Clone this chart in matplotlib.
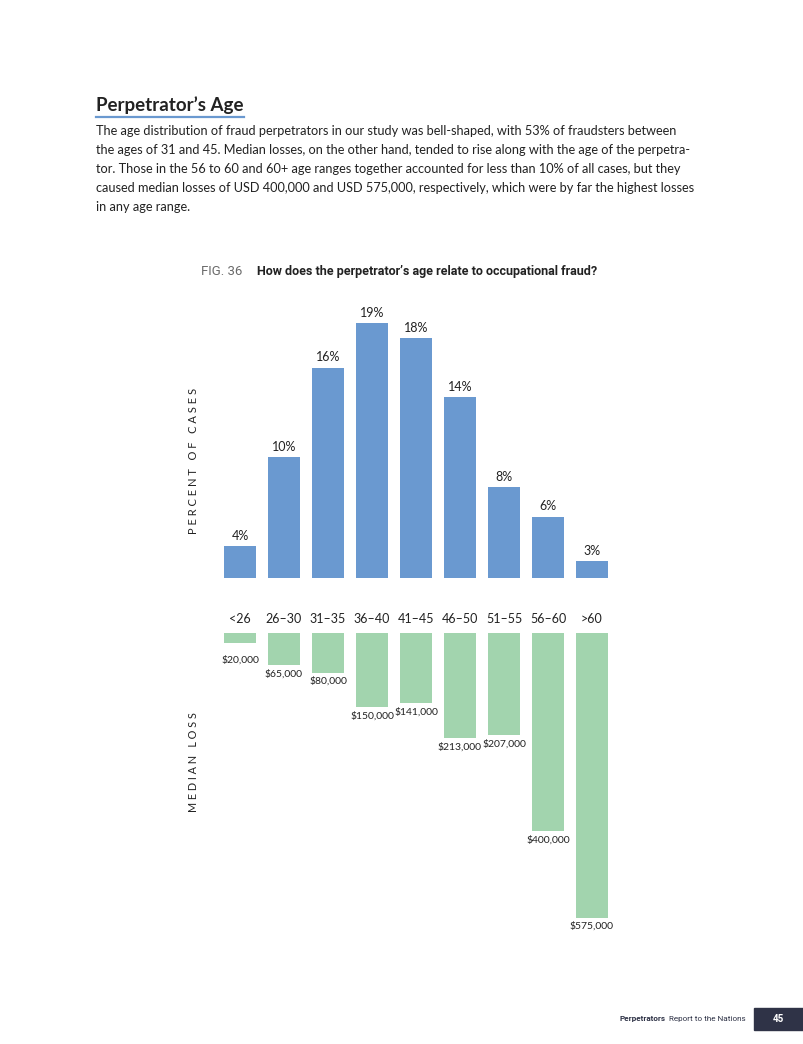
import matplotlib.pyplot as plt
from matplotlib.lines import Line2D
from matplotlib.patches import Rectangle
from matplotlib.transforms import blended_transform_factory

# Daten
AGES = ['<26', '26–30', '31–35', '36–40', '41–45', '46–50', '51–55', '56–60', '>60']
PERCENT = [4, 10, 16, 19, 18, 14, 8, 6, 3]
LOSS = [20000, 65000, 80000, 150000, 141000, 213000, 207000, 400000, 575000]

TITLE = 'Perpetrator’s Age'
BODY = [
    'The age distribution of fraud perpetrators in our study was bell-shaped, with 53% of fraudsters between',
    'the ages of 31 and 45. Median losses, on the other hand, tended to rise along with the age of the perpetra-',
    'tor. Those in the 56 to 60 and 60+ age ranges together accounted for less than 10% of all cases, but they',
    'caused median losses of USD 400,000 and USD 575,000, respectively, which were by far the highest losses',
    'in any age range.',
]
FIG_NO = 'FIG. 36'
FIG_Q = 'How does the perpetrator’s age relate to occupational fraud?'

BLUE = '#6a99d0'
GREEN = '#a2d4ae'
DARK = '#222222'
FONT = ['Lato', 'DejaVu Sans']
NARROW = ['Liberation Sans Narrow', 'Roboto', 'DejaVu Sans']

W, H = 804, 1044
fig = plt.figure(figsize=(W / 100, H / 100), dpi=100)


def fx(px):
    return px / W


def fy(py):
    return 1 - py / H


def spaced(s):
    return ' '.join(s)


# Kopfbereich
fig.text(fx(96), fy(105), TITLE, fontsize=13.5, fontweight='bold', color=DARK,
         family=FONT, va='center', ha='left')
fig.add_artist(Line2D([fx(96), fx(244)], [fy(117), fy(117)], color=BLUE, lw=1.6))
for i, line in enumerate(BODY):
    fig.text(fx(96), fy(131 + 19 * i), line, fontsize=9.2, color=DARK,
             family=FONT, va='center', ha='left')

fig.text(fx(201), fy(271), FIG_NO, fontsize=9.5, color='#6b6b6b',
         family=NARROW, va='center', ha='left')
fig.text(fx(257), fy(271), FIG_Q, fontsize=9, color=DARK, fontweight='bold',
         family=NARROW, va='center', ha='left')

# Achsen
x_left, x_right = 200, 620
xlim = (-(240 - x_left) / 44, (x_right - 240) / 44)
ax_top = fig.add_axes([fx(x_left), fy(578), fx(x_right - x_left), (578 - 290) / H])
ax_bot = fig.add_axes([fx(x_left), fy(950), fx(x_right - x_left), (950 - 633) / H])

pos = list(range(len(AGES)))
ax_top.bar(pos, PERCENT, width=0.727, color=BLUE)
ax_top.set_xlim(*xlim)
ax_top.set_ylim(1.88, 1.88 + (578 - 290) / 14.9)
for i, v in enumerate(PERCENT):
    ax_top.annotate(f'{v}%', (i, v), xytext=(0, 3), textcoords='offset points',
                    ha='center', va='bottom', fontsize=9, color=DARK, family=FONT)

ax_bot.bar(pos, LOSS, width=0.727, color=GREEN)
ax_bot.set_xlim(*xlim)
ax_bot.set_ylim((950 - 633) / 0.000495, 0)
for i, v in enumerate(LOSS):
    ax_bot.annotate(f'${v:,}', (i, max(v, 36000)), xytext=(0, -3), textcoords='offset points',
                    ha='center', va='top', fontsize=7.5, color=DARK, family=FONT)

trans = blended_transform_factory(ax_bot.transData, ax_bot.transAxes)
for i, lab in enumerate(AGES):
    ax_bot.annotate(lab, (i, 1), xycoords=trans, xytext=(0, 10), textcoords='offset points',
                    ha='center', va='center', fontsize=9, color=DARK, family=FONT)

for ax in (ax_top, ax_bot):
    ax.axis('off')

fig.text(fx(194), fy(461), spaced('PERCENT OF CASES'), rotation=90, fontsize=8,
         color=DARK, family=FONT, ha='center', va='center')
fig.text(fx(194), fy(762), spaced('MEDIAN LOSS'), rotation=90, fontsize=7.8,
         color=DARK, family=FONT, ha='center', va='center')

# Fußzeile
fig.text(fx(620), fy(1019), 'Perpetrators', fontsize=5.9, fontweight='bold', color='#2f3347',
         family=NARROW, ha='left', va='center')
fig.text(fx(669), fy(1019), 'Report to the Nations', fontsize=5.9, color='#2f3347',
         family=NARROW, ha='left', va='center')
fig.add_artist(Rectangle((fx(754), fy(1030)), fx(50), (1030 - 1008) / H,
                         transform=fig.transFigure, color='#2f3347'))
fig.text(fx(778), fy(1019), '45', fontsize=7, fontweight='bold', color='white',
         family=NARROW, ha='center', va='center')

fig.savefig('out.png', dpi=100)
